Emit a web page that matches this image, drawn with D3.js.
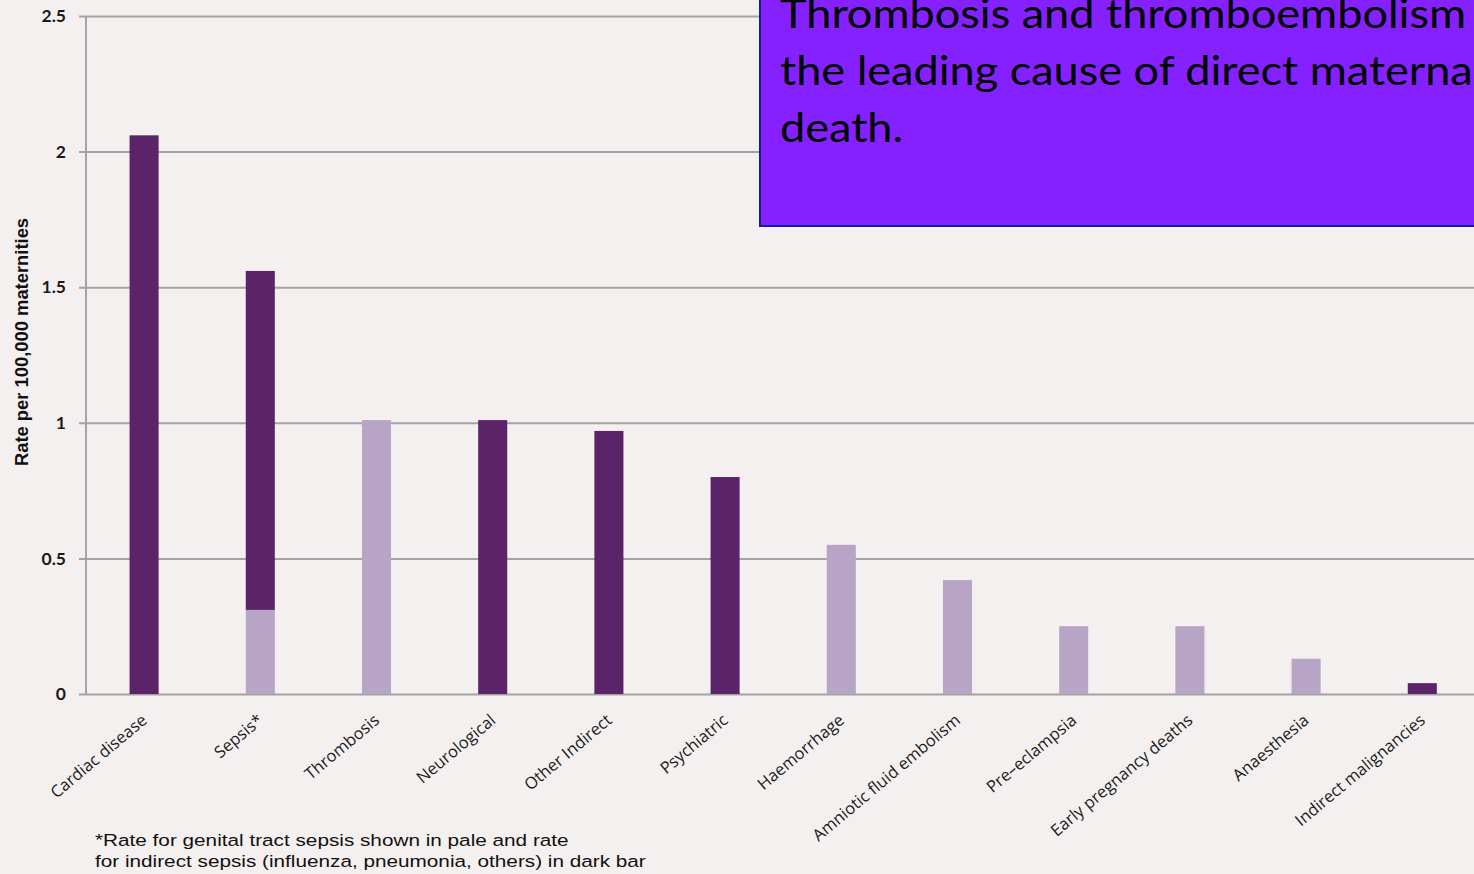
<!DOCTYPE html>
<html>
<head>
<meta charset="utf-8">
<script src="https://cdn.jsdelivr.net/npm/d3@7"></script>
<style>
  body { margin: 0; background: #f4f0ef; overflow: hidden; }
  svg { display: block; }
</style>
</head>
<body>
<svg id="chart" width="1474" height="874"></svg>
<script>
var categories = ['Cardiac disease', 'Sepsis*', 'Thrombosis', 'Neurological', 'Other Indirect',
  'Psychiatric', 'Haemorrhage', 'Amniotic fluid embolism', 'Pre\u2013eclampsia',
  'Early pregnancy deaths', 'Anaesthesia', 'Indirect malignancies']

// pale = direct / genital tract, dark = indirect
var pale = [0, 0.31, 1.01, 0, 0, 0, 0.55, 0.42, 0.25, 0.25, 0.13, 0]
var dark = [2.06, 1.25, 0, 1.01, 0.97, 0.80, 0, 0, 0, 0, 0, 0.04]

var yTicks = [0, 0.5, 1, 1.5, 2, 2.5]

var boxLines = ['Thrombosis and thromboembolism is', 'the leading cause of direct maternal', 'death.']
var note = ['*Rate for genital tract sepsis shown in pale and rate',
  'for indirect sepsis (influenza, pneumonia, others) in dark bar']

function draw(){
  var svg = d3.select('#chart')
  var W = 1474, H = 874
  var mLeft = 86, mTop = 16, mBottom = 694

  var rows = categories.map((c, i) => ({cat: c, pale: pale[i], dark: dark[i]}))

  var x = d3.scaleBand().domain(categories).range([mLeft, mLeft + 12 * 116.2]).paddingInner(0.75).paddingOuter(0.375)
  var y = d3.scaleLinear().domain([0, 2.5]).range([mBottom, mTop])

  svg.append('rect').attr('width', W).attr('height', H).attr('fill', '#f4f0ef')

  // grid + y axis
  var yAxis = svg.append('g')
    .attr('transform', `translate(${mLeft},0)`)
    .call(d3.axisLeft(y).tickValues(yTicks).tickFormat(d3.format('')).tickSizeInner(-(W - mLeft)).tickSizeOuter(0))
  yAxis.select('.domain').remove()
  yAxis.selectAll('.tick line').attr('x1', -7).attr('stroke', '#a3a3a3').attr('stroke-width', 2)
  yAxis.selectAll('.tick text').attr('x', -20)
    .style('font-family', 'Lato, sans-serif').style('font-weight', 'bold').style('font-size', '17.5px').attr('fill', '#1a1a1a')

  svg.append('line')
    .attr('x1', mLeft).attr('x2', mLeft).attr('y1', y(2.5)).attr('y2', y(0))
    .attr('stroke', '#a3a3a3').attr('stroke-width', 2)

  // stacked bars
  var stack = d3.stack().keys(['pale', 'dark'])(rows)
  var colors = {pale: '#b8a5c5', dark: '#5b2468'}

  svg.append('g').selectAll('g').data(stack).join('g')
    .attr('fill', d => colors[d.key])
    .selectAll('rect').data(d => d.filter(p => p[1] > p[0])).join('rect')
    .attr('x', d => x(d.data.cat))
    .attr('width', x.bandwidth())
    .attr('y', d => y(d[1]))
    .attr('height', d => y(d[0]) - y(d[1]))

  // x labels
  svg.append('g').selectAll('text').data(categories).join('text')
    .attr('transform', d => `translate(${x(d) + x.bandwidth() / 2 + 4},722) rotate(-40)`)
    .attr('text-anchor', 'end')
    .style('font-family', 'Open Sans, sans-serif').style('font-size', '16.5px').attr('fill', '#1a1a1a')
    .text(d => d)

  // y label
  svg.append('text')
    .attr('transform', 'translate(28,342) rotate(-90) scale(1.05,1)')
    .attr('text-anchor', 'middle')
    .style('font-family', 'Liberation Sans, Arial, sans-serif').style('font-weight', 'bold').style('font-size', '17.5px')
    .attr('fill', '#111')
    .text('Rate per 100,000 maternities')

  // footnote (source text is drawn wide)
  svg.append('g').attr('transform', 'translate(95,0) scale(1.22,1)')
    .selectAll('text').data(note).join('text')
    .attr('x', 0).attr('y', (d, i) => 846 + i * 21)
    .style('font-family', 'Liberation Sans, Arial, sans-serif').style('font-size', '17px').attr('fill', '#111')
    .text(d => d)

  // callout box
  svg.append('rect')
    .attr('x', 760).attr('y', -10).attr('width', 730).attr('height', 236)
    .attr('fill', '#8521fe').attr('stroke', '#1b17a3').attr('stroke-width', 2)

  svg.append('g').attr('transform', 'translate(780,0) scale(1.1,1)')
    .selectAll('text').data(boxLines).join('text')
    .attr('x', 0).attr('y', (d, i) => 28 + i * 57)
    .style('font-family', 'Lato, sans-serif').style('font-size', '41px').attr('fill', '#000')
    .text(d => d)
}

draw()
</script>
</body>
</html>
